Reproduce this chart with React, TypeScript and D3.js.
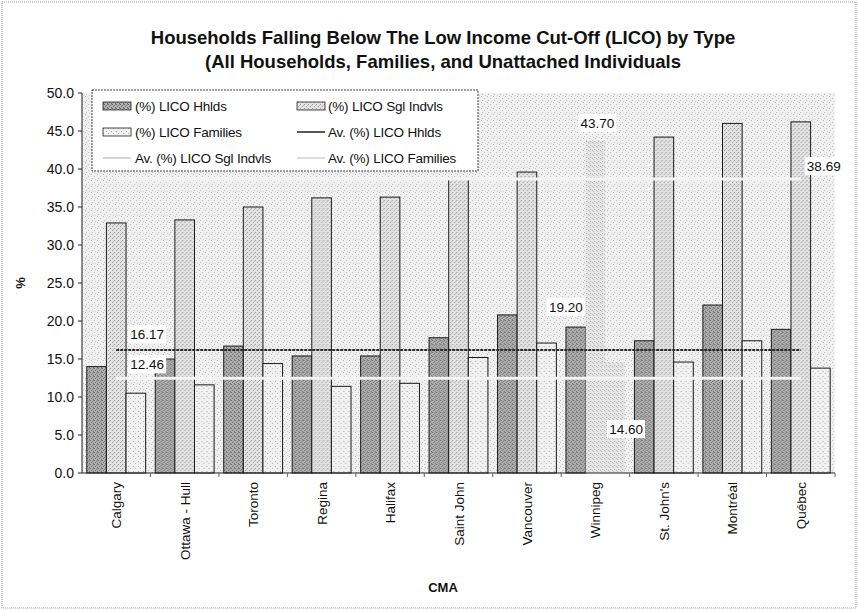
import React from "react";
import * as d3 from "d3";

// CMA categories and the three LICO series (%)
const categories = [
  "Calgary",
  "Ottawa - Hull",
  "Toronto",
  "Regina",
  "Halifax",
  "Saint John",
  "Vancouver",
  "Winnipeg",
  "St. John's",
  "Montréal",
  "Québec",
];
const licoHhlds = [14.0, 15.0, 16.7, 15.4, 15.4, 17.8, 20.8, 19.2, 17.4, 22.1, 18.9];
const licoSglIndvls = [32.9, 33.3, 35.0, 36.2, 36.3, 38.7, 39.6, 43.7, 44.2, 46.0, 46.2];
const licoFamilies = [10.5, 11.6, 14.4, 11.4, 11.8, 15.2, 17.1, 14.6, 14.6, 17.4, 13.8];

// Average reference lines
const avHhlds = 16.17;
const avSglIndvls = 38.69;
const avFamilies = 12.46;

const yTicks = [0, 5, 10, 15, 20, 25, 30, 35, 40, 45, 50];

const seriesKeys = ["hhlds", "sgl", "fam"];
const seriesLabels = ["(%) LICO Hhlds", "(%) LICO Sgl Indvls", "(%) LICO Families"];

const W = 859;
const H = 611;
const margin = { left: 82, right: 24, top: 93, bottom: 138 };
const FONT = "'Liberation Sans', Arial, sans-serif";

export default function App() {
  const plotW = W - margin.left - margin.right;
  const plotH = H - margin.top - margin.bottom;
  const x0 = margin.left;
  const y0 = margin.top;

  const x = d3.scaleBand<string>().domain(categories).range([x0, x0 + plotW]).padding(0);
  const inner = d3
    .scaleBand<string>()
    .domain(seriesKeys)
    .range([0, x.bandwidth()])
    .paddingOuter(0.245)
    .paddingInner(0);
  const y = d3.scaleLinear().domain([0, 50]).range([y0 + plotH, y0]);

  const rows = categories.map((c, i) => ({
    cat: c,
    hhlds: licoHhlds[i],
    sgl: licoSglIndvls[i],
    fam: licoFamilies[i],
  }));

  const fills: Record<string, string> = {
    hhlds: "url(#patHhlds)",
    sgl: "url(#patSgl)",
    fam: "url(#patFam)",
  };

  const firstC = (x(categories[0]) as number) + x.bandwidth() / 2;
  const lastC = (x(categories[categories.length - 1]) as number) + x.bandwidth() / 2;

  const valueLabel = (txt: string, cx: number, cy: number, key: string) => (
    <g key={key}>
      <rect x={cx - 19} y={cy - 9} width={38} height={18} fill="#ffffff" />
      <text x={cx} y={cy + 5} textAnchor="middle" fontSize={13.5} fontFamily={FONT} fill="#111">
        {txt}
      </text>
    </g>
  );

  const wpg = x("Winnipeg") as number;
  const bw = inner.bandwidth();

  const legendX = 92;
  const legendY = 90;

  return (
    <svg
      width={W}
      height={H}
      style={{ position: "absolute", left: 0, top: 0, background: "#fff" }}
      xmlns="http://www.w3.org/2000/svg"
    >
      <defs>
        <pattern id="patBg" width="6" height="6" patternUnits="userSpaceOnUse">
          <rect width="6" height="6" fill="#f0f0f0" />
          <rect x="1" y="0" width="1" height="1" fill="#b8b8b8" />
          <rect x="4" y="2" width="1" height="1" fill="#c4c4c4" />
          <rect x="2" y="4" width="1" height="1" fill="#bdbdbd" />
          <rect x="5" y="5" width="1" height="1" fill="#d0d0d0" />
        </pattern>
        <pattern id="patHhlds" width="4" height="4" patternUnits="userSpaceOnUse">
          <rect width="4" height="4" fill="#b0b0b0" />
          <rect x="0" y="0" width="1" height="1" fill="#6a6a6a" />
          <rect x="2" y="1" width="1" height="1" fill="#767676" />
          <rect x="1" y="2" width="1" height="1" fill="#707070" />
          <rect x="3" y="3" width="1" height="1" fill="#6e6e6e" />
          <rect x="3" y="0" width="1" height="1" fill="#8a8a8a" />
        </pattern>
        <pattern id="patSgl" width="4" height="4" patternUnits="userSpaceOnUse">
          <rect width="4" height="4" fill="#e2e2e2" />
          <rect x="0" y="0" width="1" height="1" fill="#9a9a9a" />
          <rect x="2" y="2" width="1" height="1" fill="#a4a4a4" />
          <rect x="3" y="1" width="1" height="1" fill="#bbbbbb" />
        </pattern>
        <pattern id="patFam" width="5" height="5" patternUnits="userSpaceOnUse">
          <rect width="5" height="5" fill="#f1f1f1" />
          <rect x="1" y="1" width="1" height="1" fill="#aaaaaa" />
          <rect x="3" y="3" width="1" height="1" fill="#b5b5b5" />
        </pattern>
        <pattern id="patFaint" width="4" height="4" patternUnits="userSpaceOnUse">
          <rect width="4" height="4" fill="#e6e6e6" />
          <rect x="1" y="1" width="1" height="1" fill="#a8a8a8" />
          <rect x="3" y="2" width="1" height="1" fill="#b0b0b0" />
          <rect x="0" y="3" width="1" height="1" fill="#c0c0c0" />
        </pattern>
      </defs>

      {/* chart frame */}
      <rect x={2} y={2} width={W - 5} height={H - 5} fill="#fff" stroke="#9a9a9a" strokeWidth={1} strokeDasharray="1 1" />

      {/* title */}
      <text x={443} y={44} textAnchor="middle" fontSize={18.5} fontWeight="bold" fontFamily={FONT} fill="#111">
        Households Falling Below The Low Income Cut-Off (LICO) by Type
      </text>
      <text x={443} y={68} textAnchor="middle" fontSize={18.5} fontWeight="bold" fontFamily={FONT} fill="#111">
        (All Households, Families, and Unattached Individuals
      </text>

      {/* plot area */}
      <rect x={x0} y={y0} width={plotW} height={plotH} fill="url(#patBg)" />

      {/* bars */}
      {rows.map((r) => (
        <g key={r.cat} transform={`translate(${x(r.cat)},0)`}>
          {seriesKeys.map((k) => {
            const v = (r as any)[k] as number;
            const faint = r.cat === "Winnipeg" && k !== "hhlds";
            return (
              <rect
                key={k}
                x={inner(k)}
                y={y(v)}
                width={bw}
                height={y(0) - y(v)}
                fill={faint ? "url(#patFaint)" : fills[k]}
                stroke={faint ? "none" : "#1a1a1a"}
                strokeWidth={1}
              />
            );
          })}
        </g>
      ))}

      {/* average lines */}
      <line x1={firstC} x2={lastC} y1={y(avSglIndvls)} y2={y(avSglIndvls)} stroke="#f4f4f4" strokeWidth={3} />
      <line x1={firstC} x2={lastC} y1={y(avFamilies)} y2={y(avFamilies)} stroke="#f4f4f4" strokeWidth={3} />
      <line x1={firstC} x2={lastC} y1={y(avHhlds)} y2={y(avHhlds)} stroke="#2a2a2a" strokeWidth={2} strokeDasharray="3 1" />

      {/* data labels */}
      {valueLabel(avHhlds.toFixed(2), firstC + 31, y(avHhlds) - 16, "l1")}
      {valueLabel(avFamilies.toFixed(2), firstC + 31, y(avFamilies) - 14, "l2")}
      {valueLabel(avSglIndvls.toFixed(2), lastC + 23, y(avSglIndvls) - 13, "l3")}
      {valueLabel(licoHhlds[7].toFixed(2), wpg + (inner("hhlds") as number) + bw / 2 - 10, y(licoHhlds[7]) - 20, "l4")}
      {valueLabel(licoSglIndvls[7].toFixed(2), wpg + (inner("sgl") as number) + bw / 2 + 2, y(licoSglIndvls[7]) - 18, "l5")}
      {valueLabel(licoFamilies[7].toFixed(2), wpg + (inner("fam") as number) + bw / 2 + 11, y(licoFamilies[7]) + 67, "l6")}

      {/* y axis */}
      <line x1={x0} x2={x0} y1={y0} y2={y(0)} stroke="#222" strokeWidth={1} />
      {yTicks.map((t) => (
        <g key={t}>
          <line x1={x0 - 4} x2={x0} y1={y(t)} y2={y(t)} stroke="#222" />
          <text x={x0 - 8} y={y(t) + 5} textAnchor="end" fontSize={14} fontFamily={FONT} fill="#111">
            {t.toFixed(1)}
          </text>
        </g>
      ))}
      <text
        transform={`translate(25,${(y0 + y(0)) / 2}) rotate(-90)`}
        textAnchor="middle"
        fontSize={13}
        fontWeight="bold"
        fontFamily={FONT}
        fill="#111"
      >
        %
      </text>

      {/* x axis */}
      <line x1={x0} x2={x0 + plotW} y1={y(0)} y2={y(0)} stroke="#222" strokeWidth={1.2} />
      {categories.map((c, i) => (
        <line
          key={`t${i}`}
          x1={(x(c) as number) + x.bandwidth()}
          x2={(x(c) as number) + x.bandwidth()}
          y1={y(0)}
          y2={y(0) + 4}
          stroke="#666"
        />
      ))}
      {categories.map((c) => (
        <text
          key={c}
          transform={`translate(${(x(c) as number) + x.bandwidth() / 2 + 5},${y(0) + 9}) rotate(-90)`}
          textAnchor="end"
          fontSize={13.5}
          fontFamily={FONT}
          fill="#111"
        >
          {c}
        </text>
      ))}
      <text x={443} y={592} textAnchor="middle" fontSize={13} fontWeight="bold" fontFamily={FONT} fill="#111">
        CMA
      </text>

      {/* legend */}
      <g>
        <rect x={legendX} y={legendY} width={386} height={81} fill="#fff" stroke="#444" strokeWidth={1} strokeDasharray="2 1" />
        {[0, 1, 2].map((i) => {
          const col = i === 1 ? 1 : 0;
          const row = i === 2 ? 1 : 0;
          const sx = col === 0 ? 103 : 297;
          const cy = 106 + row * 26;
          return (
            <g key={`ls${i}`}>
              <rect x={sx} y={cy - 4} width={28} height={8} fill={fills[seriesKeys[i]]} stroke="#222" strokeWidth={0.8} />
              <text x={col === 0 ? 135 : 328} y={cy + 5} fontSize={13.5} fontFamily={FONT} fill="#111" letterSpacing={-0.2}>
                {seriesLabels[i]}
              </text>
            </g>
          );
        })}
        <line x1={297} x2={325} y1={132} y2={132} stroke="#222" strokeWidth={1.5} />
        <text x={328} y={137} fontSize={13.5} fontFamily={FONT} fill="#111" letterSpacing={-0.2}>
          Av. (%) LICO Hhlds
        </text>
        <line x1={103} x2={131} y1={158} y2={158} stroke="#aaa" strokeWidth={1} />
        <text x={135} y={163} fontSize={13.5} fontFamily={FONT} fill="#111" letterSpacing={-0.2}>
          Av. (%) LICO Sgl Indvls
        </text>
        <line x1={297} x2={325} y1={158} y2={158} stroke="#bbb" strokeWidth={1} />
        <text x={328} y={163} fontSize={13.5} fontFamily={FONT} fill="#111" letterSpacing={-0.2}>
          Av. (%) LICO Families
        </text>
      </g>
    </svg>
  );
}
